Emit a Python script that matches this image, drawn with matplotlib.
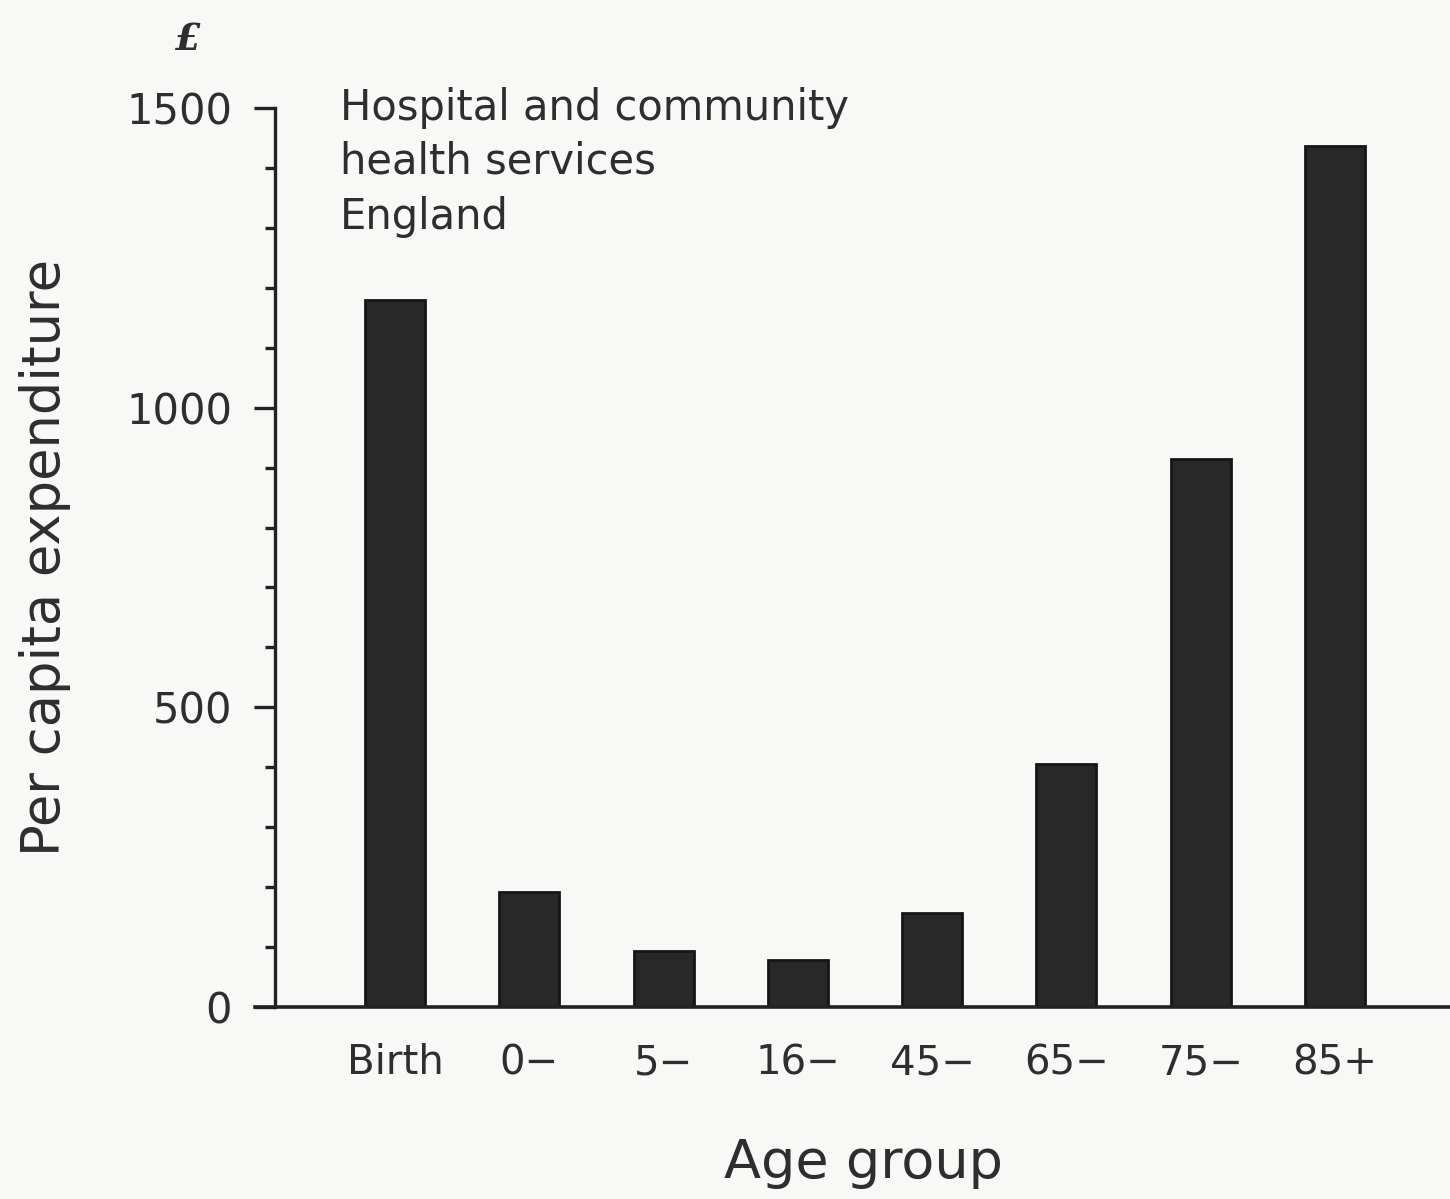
import matplotlib
matplotlib.use("Agg")
import matplotlib.pyplot as plt
from matplotlib.ticker import MultipleLocator

categories = ["Birth", "0\u2212", "5\u2212", "16\u2212", "45\u2212", "65\u2212", "75\u2212", "85+"]
values = [1180, 192, 93, 78, 157, 405, 915, 1437]
yticks = [0, 500, 1000, 1500]
notes = ["Hospital and community", "health services", "England"]

BG = "#f8f8f6"
INK = "#222222"
TXT = "#2e2e2e"

plt.rcParams['font.family'] = ['DejaVu Sans']

W, H = 1450, 1199
fig = plt.figure(figsize=(W / 100, H / 100), dpi=100, facecolor=BG)
ax = fig.add_axes([275 / W, (H - 1007) / H, (W - 275) / W, (1007 - 108) / H])
ax.set_facecolor(BG)

x = list(range(len(categories)))
ax.bar(x, values, width=0.447, color="#282828", edgecolor="#161616", linewidth=2, zorder=3)

ax.set_xlim(-0.894, 7.856)
ax.set_ylim(0, 1500)

for s in ["top", "right", "bottom"]:
    ax.spines[s].set_visible(False)
ax.spines["left"].set_linewidth(2.4)
ax.spines["left"].set_color(INK)

# x-axis line, extending slightly left of the y spine
ax.plot([-0.017, 1.0], [0, 0], transform=ax.transAxes, color=INK, lw=2.6, clip_on=False, zorder=4)

ax.set_yticks(yticks)
ax.set_yticklabels([str(v) for v in yticks])
ax.yaxis.set_minor_locator(MultipleLocator(100))
ax.tick_params(axis="y", which="major", length=15, width=2.4, color=INK, pad=16,
               labelsize=30, labelcolor=TXT, direction="out")
ax.tick_params(axis="y", which="minor", length=7, width=2.4, color=INK, direction="out")

ax.set_xticks(x)
ax.set_xticklabels(categories)
ax.tick_params(axis="x", length=0, pad=26, labelsize=29, labelcolor=TXT)

fig.text(45 / W, 1 - 557 / H, "Per capita expenditure", rotation=90, ha="center", va="center",
         fontsize=38, color=TXT)
fig.text(864 / W, 1 - 1163 / H, "Age group", ha="center", va="center", fontsize=39, color=TXT)
fig.text(188 / W, 1 - 40 / H, "\u00a3", ha="center", va="center", fontsize=27, color=TXT,
         family="DejaVu Serif", fontstyle="italic", fontweight="bold")

for line, base in zip(notes, [120, 174, 229]):
    fig.text(340 / W, 1 - base / H, line, ha="left", va="baseline", fontsize=30, color=TXT)

fig.savefig("out.png", dpi=100, facecolor=BG)
